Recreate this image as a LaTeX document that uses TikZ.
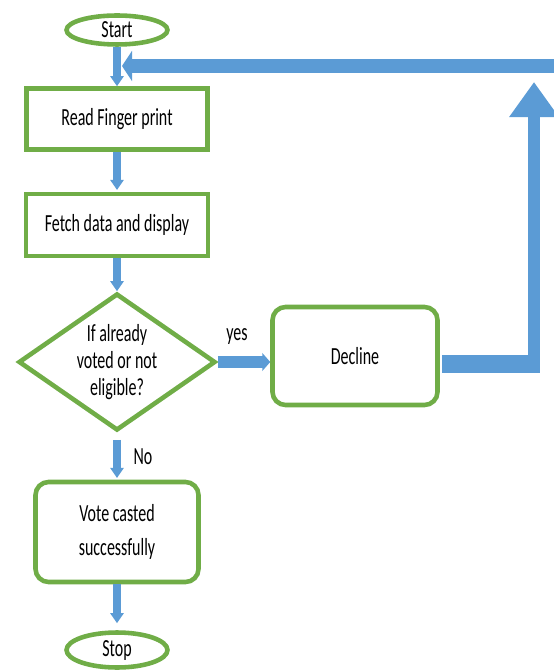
\documentclass[tikz,border=0pt]{standalone}
\usepackage{fontspec}
\setmainfont[FakeStretch=0.65]{Carlito}
\usepackage{tikz}
\usetikzlibrary{shapes.geometric, arrows.meta}
\definecolor{leaf}{RGB}{112, 173, 71}
\definecolor{sky}{RGB}{91, 155, 213}

\begin{document}
\begin{tikzpicture}[x=0.02cm, y=-0.02cm,
  box/.style={draw=leaf, line width=2.6pt, fill=white, inner sep=0pt, align=center,
    font=\fontsize{14}{15.6}\selectfont},
  term/.style={box, ellipse},
  soft/.style={box, rounded corners=0.26cm},
  tag/.style={inner sep=0pt, font=\fontsize{14}{15.6}\selectfont},
  flow/.style={draw=sky, line width=4.5pt, -{Triangle[width=7.4pt, length=5.7pt]}}]
  \path[use as bounding box, fill=white] (0, 0) rectangle (553, 671);

  \node[term, minimum width=2.02cm, minimum height=0.58cm] (start) at (117, 30) {Start};
  \node[box, minimum width=3.62cm, minimum height=1.22cm] (read) at (117, 119) {Read Finger print};
  \node[box, minimum width=3.64cm, minimum height=1.24cm] (fetch) at (117, 225) {Fetch data and display};
  \node[box, diamond, aspect=1.44, minimum width=3.94cm, minimum height=2.74cm] (check) at (117, 362)
    {If already\\voted or not\\eligible?};
  \node[soft, minimum width=3.3cm, minimum height=1.96cm] (decline) at (355, 356) {Decline};
  \node[soft, minimum width=3.26cm, minimum height=2cm, font=\fontsize{14}{19.8}\selectfont] (vote)
    at (117, 532) {Vote casted\\successfully};
  \node[term, minimum width=2.02cm, minimum height=0.7cm] (stop) at (117, 650) {Stop};
  \node[tag] (yes) at (237, 337) {yes};
  \node[tag] (no) at (143, 457) {No};

  \foreach \a/\b/\s/\e in {start/read/0/0, read/fetch/0/1, fetch/check/0/0, check/vote/4/1, vote/stop/0/4}
    \draw[flow, shorten <=\s pt, shorten >=\e pt] (\a) -- (\b);
  \draw[flow, line width=6.5pt, -{Triangle[width=10pt, length=4.5pt]}] (check.east) -- (check.east -| decline.west);

  % way back to the start
  \coordinate (bend) at (534, 364);
  \coordinate (back) at (534, 82);
  \coordinate (loopin) at (600, 66);
  \coordinate (loopout) at (122, 66);
  \draw[sky, line width=10pt] ([xshift=1.3pt]decline.east |- bend) -- ([xshift=3.4pt]bend);
  \draw[sky, line width=6.8pt, -{Triangle[width=27pt, length=20pt]}] ([yshift=-5.1pt]bend) -- (back);
  \draw[sky, line width=8.5pt, -{Triangle[width=17pt, length=5.7pt]}] (loopin) -- (loopout);
\end{tikzpicture}
\end{document}
